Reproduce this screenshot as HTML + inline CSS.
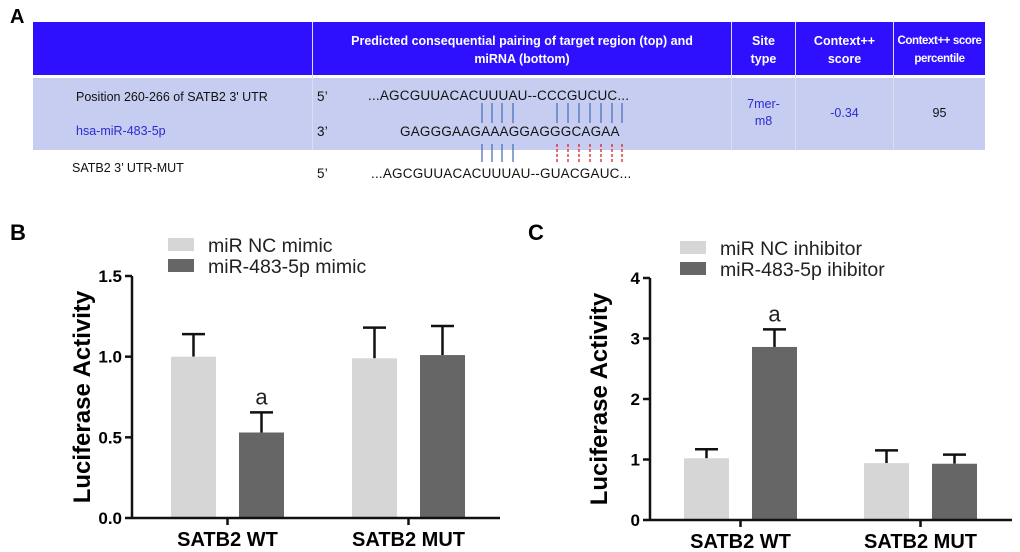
<!DOCTYPE html>
<html><head><meta charset="utf-8"><style>
body{margin:0;background:#fff;width:1020px;height:552px;overflow:hidden;position:relative;font-family:"Liberation Sans",sans-serif}
.abs{position:absolute}
.hd{color:#fff;font-size:12.5px;text-align:center;line-height:18px;font-weight:bold;white-space:nowrap}
.t{font-size:12.5px;color:#111;white-space:nowrap}
.seq{font-size:13.5px;color:#111;white-space:nowrap;letter-spacing:0.2px}
</style></head><body>
<div class="abs" style="left:10px;top:6px;font-size:20px;font-weight:bold">A</div>
<div class="abs" style="left:33px;top:22px;width:952px;height:53px;background:#2e10ff"></div>
<div class="abs" style="left:33px;top:78px;width:952px;height:72px;background:#c6cdf0"></div>
<div class="abs" style="left:312px;top:22px;width:1px;height:128px;background:#dde"></div>
<div class="abs" style="left:731px;top:22px;width:1px;height:128px;background:#dde"></div>
<div class="abs" style="left:795px;top:22px;width:1px;height:128px;background:#dde"></div>
<div class="abs" style="left:893px;top:22px;width:1px;height:128px;background:#dde"></div>
<div class="abs hd" style="left:313px;top:32px;width:418px">Predicted consequential pairing of target region (top) and<br>miRNA (bottom)</div>
<div class="abs hd" style="left:732px;top:32px;width:63px">Site<br>type</div>
<div class="abs hd" style="left:796px;top:32px;width:97px">Context++<br>score</div>
<div class="abs hd" style="left:894px;top:32px;width:91px;font-size:11.5px;letter-spacing:-0.4px">Context++ score<br>percentile</div>
<div class="abs t" style="left:76px;top:90px">Position 260-266 of SATB2 3' UTR</div>
<div class="abs t" style="left:76px;top:124px;color:#2b2bd0">hsa-miR-483-5p</div>
<div class="abs t" style="left:72px;top:161px">SATB2 3’ UTR-MUT</div>
<div class="abs seq" style="left:317px;top:89px">5’</div>
<div class="abs seq" style="left:317px;top:124px">3’</div>
<div class="abs seq" style="left:317px;top:166px">5’</div>
<div class="abs seq" style="left:368px;top:88px">...AGCGUUACACUUUAU--CCCGUCUC...</div>
<div class="abs seq" style="left:400px;top:124px">GAGGGAAGAAAGGAGGGCAGAA</div>
<div class="abs seq" style="left:371px;top:166px">...AGCGUUACACUUUAU--GUACGAUC...</div>
<svg class="abs" style="left:0;top:0" width="1020" height="200">
<g stroke="#4a74c0" stroke-width="1.3">
<line x1="482" y1="103" x2="482" y2="123"/><line x1="492" y1="103" x2="492" y2="123"/><line x1="502" y1="103" x2="502" y2="123"/><line x1="513" y1="103" x2="513" y2="123"/>
<line x1="557" y1="103" x2="557" y2="123"/><line x1="568" y1="103" x2="568" y2="123"/><line x1="579" y1="103" x2="579" y2="123"/><line x1="590" y1="103" x2="590" y2="123"/><line x1="601" y1="103" x2="601" y2="123"/><line x1="612" y1="103" x2="612" y2="123"/><line x1="622" y1="103" x2="622" y2="123"/>
<line x1="482" y1="144" x2="482" y2="162"/><line x1="492" y1="144" x2="492" y2="162"/><line x1="502" y1="144" x2="502" y2="162"/><line x1="513" y1="144" x2="513" y2="162"/>
</g>
<g stroke="#e02020" stroke-width="1.3" stroke-dasharray="3,2">
<line x1="557" y1="144" x2="557" y2="162"/><line x1="568" y1="144" x2="568" y2="162"/><line x1="579" y1="144" x2="579" y2="162"/><line x1="590" y1="144" x2="590" y2="162"/><line x1="601" y1="144" x2="601" y2="162"/><line x1="612" y1="144" x2="612" y2="162"/><line x1="622" y1="144" x2="622" y2="162"/>
</g></svg>
<div class="abs t" style="left:732px;top:96px;width:63px;text-align:center;color:#2b2bd0;white-space:normal;line-height:17px">7mer-<br>m8</div>
<div class="abs t" style="left:796px;top:106px;width:97px;text-align:center;color:#2b2bd0">-0.34</div>
<div class="abs t" style="left:894px;top:106px;width:91px;text-align:center">95</div>

<svg class="abs" style="left:0;top:200px" width="1020" height="352" id="charts"></svg>
<script>
const groups=["SATB2 WT","SATB2 MUT"];
const bValsNC=[1.0,0.99], bErrNC=[0.14,0.19];
const bValsMim=[0.53,1.01], bErrMim=[0.125,0.18];
const bTicks=[0,0.5,1.0,1.5], bTickLabels=["0.0","0.5","1.0","1.5"];
const cValsNC=[1.02,0.94], cErrNC=[0.15,0.21];
const cValsInh=[2.86,0.93], cErrInh=[0.29,0.15];
const cTicks=[0,1,2,3,4], cTickLabels=["0","1","2","3","4"];
const bLegend=["miR NC mimic","miR-483-5p mimic"];
const cLegend=["miR NC inhibitor","miR-483-5p ihibitor"];
const svg=document.getElementById('charts');const NS='http://www.w3.org/2000/svg';
function mk(t,a,txt){const e=document.createElementNS(NS,t);for(const k in a)e.setAttribute(k,a[k]);if(txt!==undefined)e.textContent=txt;svg.appendChild(e);return e;}
function chart(p){
 const y=v=>p.y0-(v-0)/p.max*(p.y0-p.yTop);
 let e=mk('text',{x:p.lx,y:p.ly,'font-size':22,'font-weight':'bold'},p.letter);
 p.legend.forEach((l,i)=>{
  e=mk('rect',{x:p.sx,y:p.sy+i*21,width:26,height:13,fill:i?'#666':'#d6d6d6'});
  e=mk('text',{x:p.sx+40,y:p.sy+i*21+14,'font-size':19.5,fill:'#222'},l);
 });
 groups.forEach((g,gi)=>{
  [[p.a,p.ae,'#d6d6d6'],[p.b,p.be,'#666']].forEach((s,si)=>{
   const x=p.barX[gi]+si*68, v=s[0][gi], top=y(v), et=y(v+s[1][gi]);
   e=mk('line',{x1:x+22.5,y1:top,x2:x+22.5,y2:et,stroke:'#111','stroke-width':2.5});
   e=mk('line',{x1:x+11,y1:et,x2:x+34,y2:et,stroke:'#111','stroke-width':2.5});
   e=mk('rect',{x:x,y:top,width:45,height:p.y0-top,fill:s[2]});
   if(p.sig[0]===gi&&p.sig[1]===si){e=mk('text',{x:x+22.5,y:et-8,'font-size':22,'text-anchor':'middle',fill:'#222'},'a');}
  });
  const tx=p.barX[gi]+56.5;
  e=mk('line',{x1:tx,y1:p.y0,x2:tx,y2:p.y0+7,stroke:'#111','stroke-width':2.5});
  e=mk('text',{x:tx,y:p.y0+28,'font-size':20,'font-weight':'bold','text-anchor':'middle'},g);
 });
 p.ticks.forEach((t,i)=>{
  e=mk('line',{x1:p.ax-7,y1:y(t),x2:p.ax,y2:y(t),stroke:'#111','stroke-width':2.5});
  e=mk('text',{x:p.ax-10,y:y(t)+6,'font-size':17,'font-weight':'bold','text-anchor':'end'},p.tl[i]);
 });
 e=mk('line',{x1:p.ax,y1:p.yTop,x2:p.ax,y2:p.y0+1,stroke:'#111','stroke-width':2.5});
 e=mk('line',{x1:p.ax,y1:p.y0,x2:p.axEnd,y2:p.y0,stroke:'#111','stroke-width':2.5});
 e=mk('text',{x:0,y:0,'font-size':24,'font-weight':'bold','text-anchor':'middle',transform:`translate(${p.yl},${(p.yTop+p.y0)/2}) rotate(-90)`},'Luciferase Activity');
}
chart({letter:'B',lx:10,ly:40,ax:132,axEnd:500,y0:318,yTop:76,max:1.5,ticks:bTicks,tl:bTickLabels,barX:[171,352],a:bValsNC,ae:bErrNC,b:bValsMim,be:bErrMim,sig:[0,1],legend:bLegend,sx:168,sy:38,yl:90});
chart({letter:'C',lx:528,ly:40,ax:650,axEnd:1012,y0:320,yTop:78,max:4,ticks:cTicks,tl:cTickLabels,barX:[684,864],a:cValsNC,ae:cErrNC,b:cValsInh,be:cErrInh,sig:[0,1],legend:cLegend,sx:680,sy:41,yl:607});
</script>
</body></html>
